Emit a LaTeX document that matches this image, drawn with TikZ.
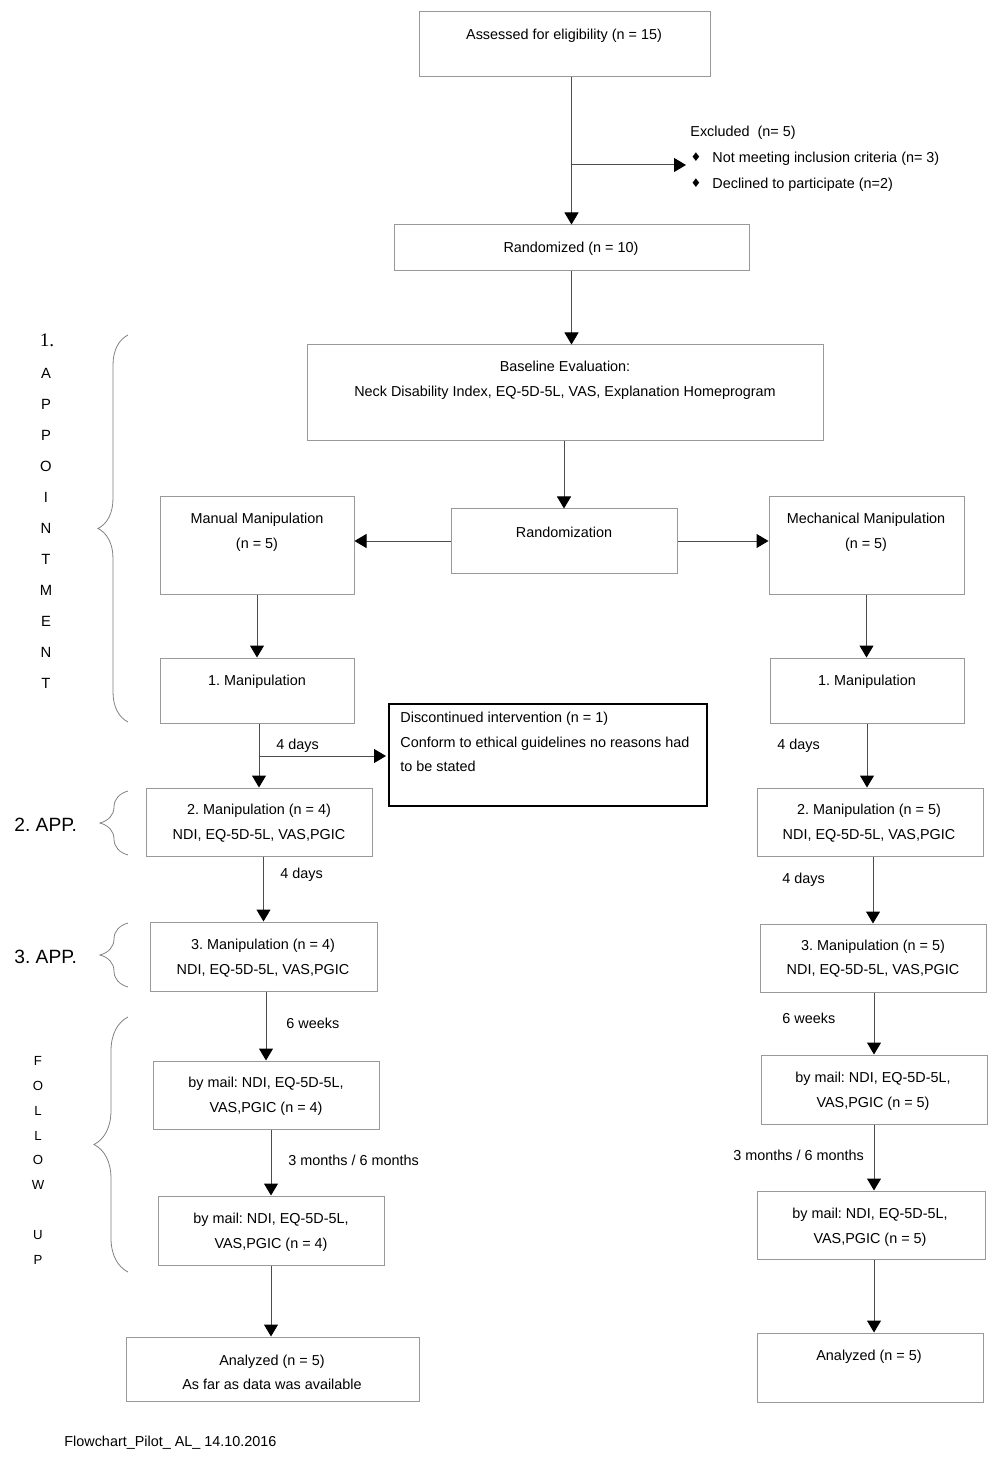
\documentclass[tikz,border=0pt]{standalone}
\usepackage{fontspec}
\setmainfont{Liberation Sans}
\newfontfamily\serifnum{Liberation Serif}
\newfontfamily\symfont{DejaVu Sans}
\usetikzlibrary{arrows.meta,decorations.pathreplacing}

\tikzset{
  box/.style 2 args={draw=gray!80, line width=0.5pt, minimum width=#1*0.5pt, minimum height=#2*0.5pt, inner sep=0pt},
  txt/.style={font=\fontsize{7.2}{12.3}\selectfont, inner sep=0pt, align=center, yshift=-1pt},
  arr/.style={draw=gray!60!black, line width=0.5pt, -{Triangle[length=6pt,width=7pt,black]}},
  curly/.style={decorate, decoration={brace, amplitude=#1}, draw=gray, line width=0.4pt},
  letter/.style={font=\fontsize{#1}{#1}\selectfont, inner sep=0pt},
  side/.style={font=\fontsize{9.6}{10}\selectfont, inner sep=0pt, anchor=west},
}

\begin{document}
\frenchspacing
\begin{tikzpicture}[x=0.5pt, y=-0.5pt]
    \useasboundingbox (0,0) rectangle (1000,1459);

    % boxes
    \node[box={291}{65}] (assess) at (564.5,44.5) {};
    \node[box={355}{46}] (rand) at (571.5,248) {};
    \node[box={516}{96}] (base) at (565,393) {};
    \node[box={226}{64}] (randz) at (564,541) {};
    \node[box={194}{97}] (manL) at (257,545.5) {};
    \node[box={195}{97}] (manR) at (866.5,545.5) {};
    \node[box={194}{65}] (m1L) at (257,690.5) {};
    \node[box={194}{65}] (m1R) at (867,690.5) {};
    \node[box={318}{102}, draw=black, line width=0.8pt] (disc) at (548,755) {};
    \node[box={226}{68}] (m2L) at (259,822) {};
    \node[box={226}{68}] (m2R) at (870,822) {};
    \node[box={227}{69}] (m3L) at (263.5,956.5) {};
    \node[box={226}{68}] (m3R) at (873,958) {};
    \node[box={226}{68}] (mail1L) at (266,1095) {};
    \node[box={226}{69}] (mail1R) at (874,1089.5) {};
    \node[box={226}{69}] (mail2L) at (271,1230.5) {};
    \node[box={228}{68}] (mail2R) at (871,1225) {};
    \node[box={293}{64}] (anaL) at (272.5,1369) {};
    \node[box={226}{69}] (anaR) at (870,1367.5) {};

    % box texts
    \node[txt] (assesst) at (564,34) {Assessed for eligibility (n = 15)};
    \node[txt] (randt) at (571,247) {Randomized (n = 10)};
    \node[txt] (baset) at (565,378) {Baseline Evaluation:\\Neck Disability Index, EQ-5D-5L, VAS, Explanation Homeprogram};
    \node[txt] (randzt) at (564,530) {Randomization};
    \node[txt] (manLt) at (257,530.5) {Manual Manipulation\\(n = 5)};
    \node[txt] (manRt) at (866,530.5) {Mechanical Manipulation\\(n = 5)};
    \node[txt] (m1Lt) at (257,680) {1. Manipulation};
    \node[txt] (m1Rt) at (867,680) {1. Manipulation};
    \node[txt, align=left, anchor=west] (disct) at (400,740) {Discontinued intervention (n = 1)\\Conform to ethical guidelines no reasons had\\to be stated};
    \node[txt] (m2Lt) at (259,821) {2. Manipulation (n = 4)\\NDI, EQ-5D-5L, VAS,PGIC};
    \node[txt] (m2Rt) at (869,821) {2. Manipulation (n = 5)\\NDI, EQ-5D-5L, VAS,PGIC};
    \node[txt] (m3Lt) at (263,956) {3. Manipulation (n = 4)\\NDI, EQ-5D-5L, VAS,PGIC};
    \node[txt] (m3Rt) at (873,956.5) {3. Manipulation (n = 5)\\NDI, EQ-5D-5L, VAS,PGIC};
    \node[txt] (mail1Lt) at (266,1094.5) {by mail: NDI, EQ-5D-5L,\\VAS,PGIC (n = 4)};
    \node[txt] (mail1Rt) at (873,1089) {by mail: NDI, EQ-5D-5L,\\VAS,PGIC (n = 5)};
    \node[txt] (mail2Lt) at (271,1230) {by mail: NDI, EQ-5D-5L,\\VAS,PGIC (n = 4)};
    \node[txt] (mail2Rt) at (870,1225) {by mail: NDI, EQ-5D-5L,\\VAS,PGIC (n = 5)};
    \node[txt] (anaLt) at (272,1370.5) {Analyzed (n = 5)\\As far as data was available};
    \node[txt] (anaRt) at (869,1355) {Analyzed (n = 5)};

    % excluded
    \node[txt, anchor=west] (excl) at (690,131) {Excluded\ \ (n= 5)};
    \node[txt, anchor=west] (excla) at (712,157) {Not meeting inclusion criteria (n= 3)};
    \node[txt, anchor=west] (exclb) at (712,183) {Declined to participate (n=2)};
    \node[font=\symfont\fontsize{6}{6}\selectfont, inner sep=0pt] (dota) at (696,157) {♦};
    \node[font=\symfont\fontsize{6}{6}\selectfont, inner sep=0pt] (dotb) at (696,183) {♦};
    \coordinate (exclend) at (686,165);
    \coordinate (discend) at (386,756);

    % connectors
    \draw[arr] (assess.south -| rand.north) -- (rand.north);
    \draw[arr] (exclend -| rand.north) -- (exclend);
    \draw[arr] (rand.south) -- (base.north -| rand.south);
    \draw[arr] (base.south -| randz.north) -- (randz.north);
    \draw[arr] (randz.west) -- (manL.east |- randz.west);
    \draw[arr] (randz.east) -- (manR.west |- randz.east);
    \draw[arr] (manL.south) -- (m1L.north -| manL.south);
    \draw[arr] (manR.south) -- (m1R.north -| manR.south);
    \draw[arr] (m1L.south -| m2L.north) -- (m2L.north);
    \draw[arr] (discend -| m2L.north) -- (discend);
    \draw[arr] (m1R.south) -- (m2R.north -| m1R.south);
    \draw[arr] (m2L.south -| m3L.north) -- (m3L.north);
    \draw[arr] (m2R.south -| m3R.north) -- (m3R.north);
    \draw[arr] (m3L.south -| mail1L.north) -- (mail1L.north);
    \draw[arr] (m3R.south -| mail1R.north) -- (mail1R.north);
    \draw[arr] (mail1L.south -| mail2L.north) -- (mail2L.north);
    \draw[arr] (mail1R.south) -- (mail2R.north -| mail1R.south);
    \draw[arr] (mail2L.south) -- (anaL.north -| mail2L.south);
    \draw[arr] (mail2R.south -| mail1R.south) -- (anaR.north -| mail1R.south);

    % arrow labels
    \node[txt, anchor=west] (d1L) at (276,744) {4 days};
    \node[txt, anchor=west] (d1R) at (777,744) {4 days};
    \node[txt, anchor=west] (d2L) at (280,873) {4 days};
    \node[txt, anchor=west] (d2R) at (782,878) {4 days};
    \node[txt, anchor=west] (w6L) at (286,1021) {6 weeks};
    \node[txt, anchor=west] (w6R) at (782,1016) {6 weeks};
    \node[txt, anchor=west] (moL) at (288,1158) {3 months / 6 months};
    \node[txt, anchor=west] (moR) at (733,1153) {3 months / 6 months};

    % side labels
    \node[font=\serifnum\fontsize{9.6}{10}\selectfont, inner sep=0pt] (app1) at (47,340) {1.};
    \foreach \ch [count=\i] in {A,P,P,O,I,N,T,M,E,N,T}
        \node[letter=7.4] (app1\i) at (46,342+31*\i) {\ch};
    \node[side] (app2) at (14,825) {2. APP.};
    \node[side] (app3) at (14,957) {3. APP.};
    \foreach \ch/\yy in {F/1061,O/1086,L/1111,L/1136,O/1160,W/1185,U/1235,P/1260}
        \node[letter=6.6] (fu\yy) at (38,\yy) {\ch};

    % braces
    \draw[curly=15pt] (128,722) -- (128,335);
    \draw[curly=14pt] (128,855) -- (128,791);
    \draw[curly=14pt] (128,987) -- (128,923);
    \draw[curly=17pt] (128,1272) -- (128,1017);

    % footer
    \node[txt, anchor=west] (foot) at (64,1441) {Flowchart\_Pilot\_ AL\_ 14.10.2016};
\end{tikzpicture}
\end{document}
